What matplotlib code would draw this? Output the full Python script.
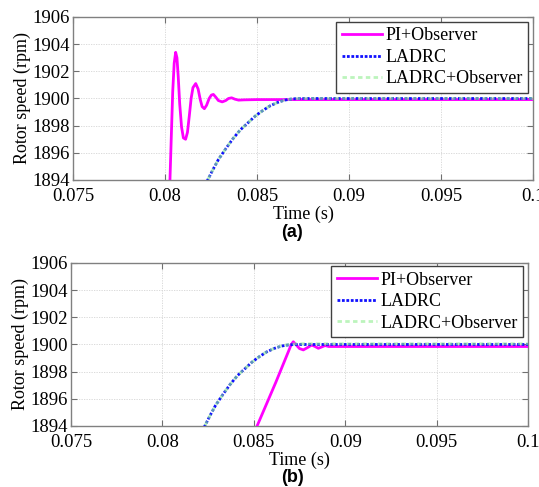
import matplotlib
matplotlib.use("Agg")
import matplotlib.pyplot as plt

# (a) PI+Observer response
t_pi_a = [0.0802, 0.08027, 0.08035, 0.08042, 0.0805, 0.08058, 0.08065, 0.08072,
          0.0808, 0.0809, 0.081, 0.08112, 0.08122, 0.08132, 0.08142, 0.08152,
          0.08167, 0.0818, 0.08192, 0.08202, 0.08214, 0.08226, 0.0824, 0.08252,
          0.08263, 0.08276, 0.0829, 0.08311, 0.0833, 0.08345, 0.08362, 0.0838,
          0.084, 0.0843, 0.085, 0.1]
w_pi_a = [1891.0, 1894.0, 1897.5, 1900.5, 1902.6, 1903.4, 1903.0, 1901.6,
          1899.6, 1897.9, 1897.1, 1897.0, 1897.5, 1898.7, 1900.0, 1900.8,
          1901.1, 1900.7, 1899.9, 1899.4, 1899.25, 1899.5, 1900.0, 1900.25,
          1900.3, 1900.1, 1899.85, 1899.75, 1899.85, 1900.0, 1900.05, 1899.95,
          1899.88, 1899.9, 1899.92, 1899.92]

# LADRC response (same in both cases)
t_ladrc = [0.082, 0.08232, 0.0826, 0.0829, 0.0833, 0.0837, 0.0841, 0.0845,
           0.0849, 0.0853, 0.0857, 0.0861, 0.0865, 0.0869, 0.0873, 0.1]
w_ladrc = [1893.0, 1894.0, 1894.75, 1895.5, 1896.3, 1897.05, 1897.7, 1898.2,
           1898.7, 1899.1, 1899.45, 1899.7, 1899.88, 1899.97, 1900.0, 1900.0]

# LADRC+Observer
w_obs_a = [1893.0, 1894.0, 1894.75, 1895.5, 1896.3, 1897.05, 1897.7, 1898.2,
           1898.7, 1899.1, 1899.45, 1899.7, 1899.88, 1899.97, 1900.0, 1900.0]
w_obs_b = [1893.0, 1894.0, 1894.75, 1895.5, 1896.3, 1897.05, 1897.7, 1898.2,
           1898.7, 1899.1, 1899.45, 1899.7, 1899.9, 1900.0, 1900.05, 1900.05]

# (b) PI+Observer response
t_pi_b = [0.085, 0.08518, 0.0862, 0.0869, 0.08705, 0.08716, 0.0873, 0.0875,
          0.08771, 0.08795, 0.08817, 0.08835, 0.08853, 0.08872, 0.0889, 0.0891,
          0.0895, 0.1]
w_pi_b = [1893.3, 1894.0, 1897.2, 1899.5, 1900.0, 1900.2, 1900.0, 1899.7,
          1899.6, 1899.78, 1899.96, 1899.85, 1899.72, 1899.82, 1899.92, 1899.85,
          1899.85, 1899.85]

x_ticks = [0.075, 0.08, 0.085, 0.09, 0.095, 0.1]
x_ticklabels = ["0.075", "0.08", "0.085", "0.09", "0.095", "0.1"]
y_ticks = [1894, 1896, 1898, 1900, 1902, 1904, 1906]

serif = "Liberation Serif"
fs = 13

fig = plt.figure(figsize=(5.39, 4.87), dpi=100)
ax_a = fig.add_axes([0.1354, 0.6304, 0.8535, 0.3347])
ax_b = fig.add_axes([0.1317, 0.1253, 0.8479, 0.3347])


def draw(ax, t_pi, w_pi, w_obs, anchor):
    ax.plot(t_pi, w_pi, color="#ff00ff", lw=2.0, label="PI+Observer", zorder=3)
    ax.plot(t_ladrc, w_ladrc, color="#1010ff", lw=2.0, ls=(0, (1, 0.6)),
            label="LADRC", zorder=4)
    ax.plot(t_ladrc, w_obs, color="#90ee90", lw=2.0, ls=(0, (1.6, 1.2)),
            label="LADRC+Observer", zorder=5, alpha=0.6)
    ax.set_xlim(0.075, 0.1)
    ax.set_ylim(1894, 1906)
    ax.set_xticks(x_ticks)
    ax.set_xticklabels(x_ticklabels)
    ax.set_yticks(y_ticks)
    ax.grid(True, color="#d4d4d4", ls=(0, (1.5, 1.5)), lw=0.6)
    ax.tick_params(direction="in", top=True, right=True, length=4,
                   color="#707070", labelsize=13.5)
    ax.tick_params(axis="x", pad=6)
    ax.tick_params(axis="y", pad=2)
    for lab in ax.get_xticklabels() + ax.get_yticklabels():
        lab.set_fontfamily(serif)
    for sp in ax.spines.values():
        sp.set_color("#808080")
        sp.set_linewidth(1.0)
    ax.set_xlabel("Time (s)", fontsize=fs, family=serif, labelpad=0)
    ax.set_ylabel("Rotor speed (rpm)", fontsize=fs, family=serif, labelpad=1)
    leg = ax.legend(loc="upper right", bbox_to_anchor=anchor, borderaxespad=0,
                    fancybox=False, framealpha=1, edgecolor="#404040",
                    prop={"family": serif, "size": fs}, handlelength=2.2,
                    handletextpad=0.2, labelspacing=0.25, borderpad=0.3)
    leg.get_frame().set_linewidth(1.0)


draw(ax_a, t_pi_a, w_pi_a, w_obs_a, (0.989, 0.969))
draw(ax_b, t_pi_b, w_pi_b, w_obs_b, (0.989, 0.98))

fig.text(292 / 539, 1 - 233 / 487, "(a)", ha="center", va="center",
         family="Liberation Sans", weight="bold", fontsize=13)
fig.text(292 / 539, 1 - 478 / 487, "(b)", ha="center", va="center",
         family="Liberation Sans", weight="bold", fontsize=13)

fig.savefig("out.png", dpi=100)
